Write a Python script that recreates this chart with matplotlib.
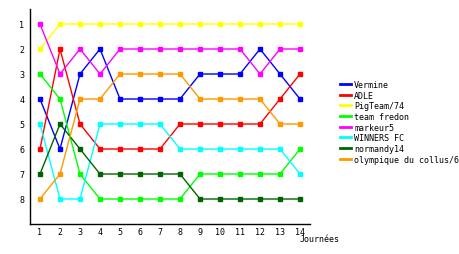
import matplotlib
matplotlib.use("Agg")
import matplotlib.pyplot as plt
from matplotlib.lines import Line2D

# Classement par journée
journees = list(range(1, 15))
teams = ["Vermine", "ADLE", "PigTeam/74", "team fredon", "markeur5",
         "WINNERS FC", "normandy14", "olympique du collus/6"]
vermine = [4, 6, 3, 2, 4, 4, 4, 4, 3, 3, 3, 2, 3, 4]
adle = [6, 2, 5, 6, 6, 6, 6, 5, 5, 5, 5, 5, 4, 3]
pigteam = [2, 1, 1, 1, 1, 1, 1, 1, 1, 1, 1, 1, 1, 1]
fredon = [3, 4, 7, 8, 8, 8, 8, 8, 7, 7, 7, 7, 7, 6]
markeur = [1, 3, 2, 3, 2, 2, 2, 2, 2, 2, 2, 3, 2, 2]
winners = [5, 8, 8, 5, 5, 5, 5, 6, 6, 6, 6, 6, 6, 7]
normandy = [7, 5, 6, 7, 7, 7, 7, 7, 8, 8, 8, 8, 8, 8]
collus = [8, 7, 4, 4, 3, 3, 3, 3, 4, 4, 4, 4, 5, 5]
ranks = [vermine, adle, pigteam, fredon, markeur, winners, normandy, collus]
colors = ["#0000ff", "#ff0000", "#ffff00", "#00ff00", "#ff00ff",
          "#00ffff", "#006400", "#ff9900"]

plt.rcParams["font.family"] = "DejaVu Sans Mono"

fig = plt.figure(figsize=(4.6, 2.55), dpi=100)
ax = fig.add_axes([30 / 460, 1 - 225 / 255, 280 / 460, 215 / 255])

for name, r, c in zip(teams, ranks, colors):
    ax.plot(journees, r, color=c, lw=1, marker="s", markersize=2.5)

ax.set_xlim(0.5, 14.5)
ax.set_ylim(9, 0.4)
ax.set_xticks(journees)
ax.set_yticks(range(1, 9))
ax.tick_params(length=0, labelsize=6)
ax.tick_params(axis="x", pad=2)
ax.tick_params(axis="y", pad=4)
for s in ["top", "right"]:
    ax.spines[s].set_visible(False)
for s in ["left", "bottom"]:
    ax.spines[s].set_linewidth(1)
    ax.spines[s].set_color("black")

fig.text(300 / 460, 1 - 240 / 255, "Journées", fontsize=6, va="center")

handles = [Line2D([], [], color=c, lw=2) for c in colors]
fig.legend(handles, teams, loc="upper left",
           bbox_to_anchor=(340 / 460, 1 - 81 / 255), frameon=False,
           fontsize=6, handlelength=1.3, handletextpad=0.4,
           labelspacing=0.2, borderpad=0, borderaxespad=0)

fig.savefig("out.png", dpi=100)
